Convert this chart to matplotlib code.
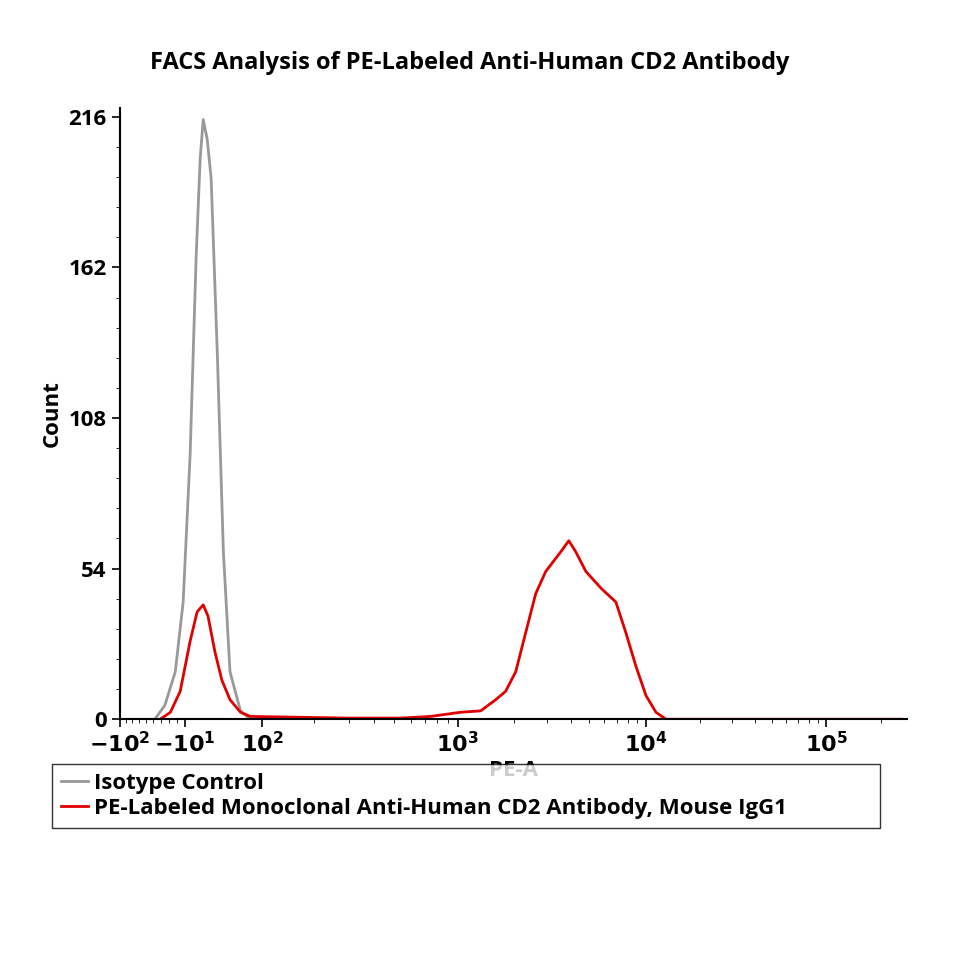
import numpy as np
import matplotlib.pyplot as plt
from matplotlib.ticker import FixedLocator, MultipleLocator

plt.rcParams["font.family"] = ["Open Sans", "DejaVu Sans"]
plt.rcParams["font.weight"] = "bold"
plt.rcParams["mathtext.default"] = "bf"

# histogram traces (PE-A value, count)
iso_x = [-48, -35, -22, -12.4, -1.7, 6.2, 11.2, 15, 20, 25, 33, 41, 50, 65, 80]
iso_y = [0, 5, 17, 42, 95, 166, 201, 215, 208, 194, 131, 60, 17, 3, 0]

cd2_x = [-41, -28, -16, -1.7, 7.4, 15, 21, 30, 39, 50, 65, 80, 168, 304, 535, 744,
         1039, 1327, 1594, 1800, 2036, 2300, 2600, 2940, 3530, 3897, 4245, 4798,
         5770, 6925, 7825, 8845, 10000, 11360, 12900, 260000]
cd2_y = [0, 2.5, 10, 28, 38.5, 41, 37, 24, 14, 7, 2.5, 1, 0.7, 0.4, 0.4, 1,
         2.5, 3, 7, 10, 17, 31, 45, 53, 60, 64, 60, 53,
         47, 42, 31, 19, 8.5, 2.5, 0, 0]

# logicle-like display scale: anchors in asinh space -> display position
anchor_vals = np.array([-100, -10, 0, 100, 1e3, 1e4, 1e5, 3e5])
anchor_pos = np.array([120, 185, 191, 262, 457, 645, 825, 911.0])
anchor_u = np.arcsinh(anchor_vals / 100)


def fwd(x):
    return np.interp(np.arcsinh(np.asarray(x) / 100), anchor_u, anchor_pos)


def inv(p):
    return 100 * np.sinh(np.interp(p, anchor_pos, anchor_u))


fig = plt.figure(figsize=(9.68, 9.68), dpi=100)
ax = fig.add_axes([0.124, 0.257, 0.813, 0.631])
ax.set_xscale("function", functions=(fwd, inv))

ax.plot(iso_x, iso_y, color="#999999", lw=2, label="Isotype Control")
ax.plot(cd2_x, cd2_y, color="#e00000", lw=2,
        label="PE-Labeled Monoclonal Anti-Human CD2 Antibody, Mouse IgG1")

ax.set_xlim(-100, 2.8e5)
ax.set_ylim(0, 219)
ax.spines["top"].set_visible(False)
ax.spines["right"].set_visible(False)
ax.spines["left"].set_linewidth(1.5)
ax.spines["bottom"].set_linewidth(1.5)

major = [-100, -10, 100, 1000, 10000, 100000]
labels = [r"$-10^2$", r"$-10^1$", r"$10^2$", r"$10^3$", r"$10^4$", r"$10^5$"]
ax.xaxis.set_major_locator(FixedLocator(major))
ax.set_xticklabels(labels)
minor = [-v for v in range(20, 100, 10)] + \
    [d * m for d in (100, 1000, 10000, 100000) for m in range(2, 10)]
ax.xaxis.set_minor_locator(FixedLocator(minor))
ax.set_yticks([0, 54, 108, 162, 216])
ax.yaxis.set_minor_locator(MultipleLocator(10.8))
ax.tick_params(labelsize=16, length=6, width=1.2)
ax.tick_params(which="minor", length=3)

ax.set_xlabel("PE-A", fontsize=16, fontweight="bold", labelpad=2)
ax.set_ylabel("Count", fontsize=16, fontweight="bold")
fig.suptitle("FACS Analysis of PE-Labeled Anti-Human CD2 Antibody",
             x=0.485, y=0.947, fontsize=17, fontweight="bold")

fig.legend(loc="upper left", bbox_to_anchor=(0.054, 0.131, 0.855, 0.08),
           mode="expand", fontsize=16,
           frameon=True, fancybox=False, edgecolor="black", handlelength=1.2,
           borderaxespad=0, handletextpad=0.3, labelspacing=0.2)

fig.savefig("out.png", dpi=100)
